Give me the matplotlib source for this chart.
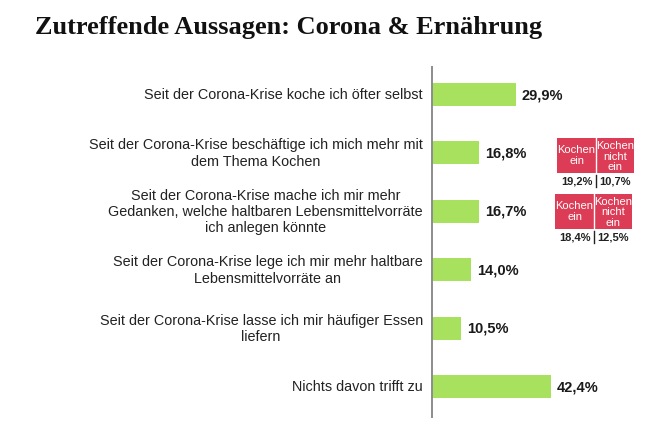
import matplotlib
matplotlib.use("Agg")
import matplotlib.pyplot as plt
from matplotlib.patches import Rectangle

# data
labels = [
    "Seit der Corona-Krise koche ich öfter selbst",
    "Seit der Corona-Krise beschäftige ich mich mehr mit\ndem Thema Kochen",
    "Seit der Corona-Krise mache ich mir mehr\nGedanken, welche haltbaren Lebensmittelvorräte\nich anlegen könnte",
    "Seit der Corona-Krise lege ich mir mehr haltbare\nLebensmittelvorräte an",
    "Seit der Corona-Krise lasse ich mir häufiger Essen\nliefern",
    "Nichts davon trifft zu",
]
values = [29.9, 16.8, 16.7, 14.0, 10.5, 42.4]
value_labels = ["29,9%", "16,8%", "16,7%", "14,0%", "10,5%", "42,4%"]

# split for rows 2 and 3 (Kochen ein / Kochen nicht ein)
split_ein = ["19,2%", "18,4%"]
split_nicht = ["10,7%", "12,5%"]

W, H = 660, 427
GREEN = "#a7e15d"
RED = "#dc3c55"

fig = plt.figure(figsize=(W / 100, H / 100), dpi=100)
plt.rcParams['font.family'] = ['Liberation Sans', 'DejaVu Sans']

def fx(px):
    return px / W

def fy(py):
    return 1 - py / H

# axes: left edge at the grey axis line
ax = fig.add_axes([fx(432), fy(418), fx(660) - fx(432), fy(68) - fy(418)])
px_per_pct = 2.8
ax.set_xlim(0, 228 / px_per_pct)
ax.set_ylim(418, 68)
ypos = [95 + 58.5 * i for i in range(len(values))]

ax.barh(ypos, values, height=23, color=GREEN)
for y, v, vl, lab in zip(ypos, values, value_labels, labels):
    ax.text(v + 2.1, y, vl, va="center", ha="left", fontsize=10.5,
            fontweight="bold", color="#1a1a1a")
    ax.text(-3.3, y, lab, va="center", ha="right", multialignment="center",
            fontsize=10.4, color="#222222", clip_on=False, linespacing=1.2)

for s in ["top", "right", "bottom"]:
    ax.spines[s].set_visible(False)
ax.spines["left"].set_color("#8c8c8c")
ax.spines["left"].set_linewidth(1.4)
ax.set_xticks([])
ax.set_yticks([])

# red boxes
boxes = [(557, 139, 634, 174, 596), (555, 195, 632, 230, 594)]
for (x0, y0, x1, y1, xm), e, n in zip(boxes, split_ein, split_nicht):
    fig.add_artist(Rectangle((fx(x0), fy(y1)), fx(x1) - fx(x0), fy(y0) - fy(y1),
                             transform=fig.transFigure, color=RED, lw=0))
    fig.add_artist(plt.Line2D([fx(xm), fx(xm)], [fy(y0), fy(y1)],
                              transform=fig.transFigure, color="white", lw=1))
    fig.text(fx((x0 + xm) / 2), fy((y0 + y1) / 2 - 1), "Kochen\nein", color="white",
             ha="center", va="center", fontsize=8, linespacing=1.1)
    fig.text(fx((xm + x1) / 2), fy((y0 + y1) / 2), "Kochen\nnicht\nein", color="white",
             ha="center", va="center", fontsize=8, linespacing=1.05)
    fig.add_artist(plt.Line2D([fx(xm), fx(xm)], [fy(y1 + 2), fy(y1 + 14)],
                              transform=fig.transFigure, color="#222222", lw=1))
    fig.text(fx(xm - 3), fy(y1 + 8), e, ha="right", va="center", fontsize=8,
             fontweight="bold", color="#222222")
    fig.text(fx(xm + 3), fy(y1 + 8), n, ha="left", va="center", fontsize=8,
             fontweight="bold", color="#222222")

fig.text(fx(35), fy(34), "Zutreffende Aussagen: Corona & Ernährung",
         family="Liberation Serif", fontweight="bold", fontsize=19,
         ha="left", va="baseline", color="#111111")

fig.savefig("out.png", dpi=100)
